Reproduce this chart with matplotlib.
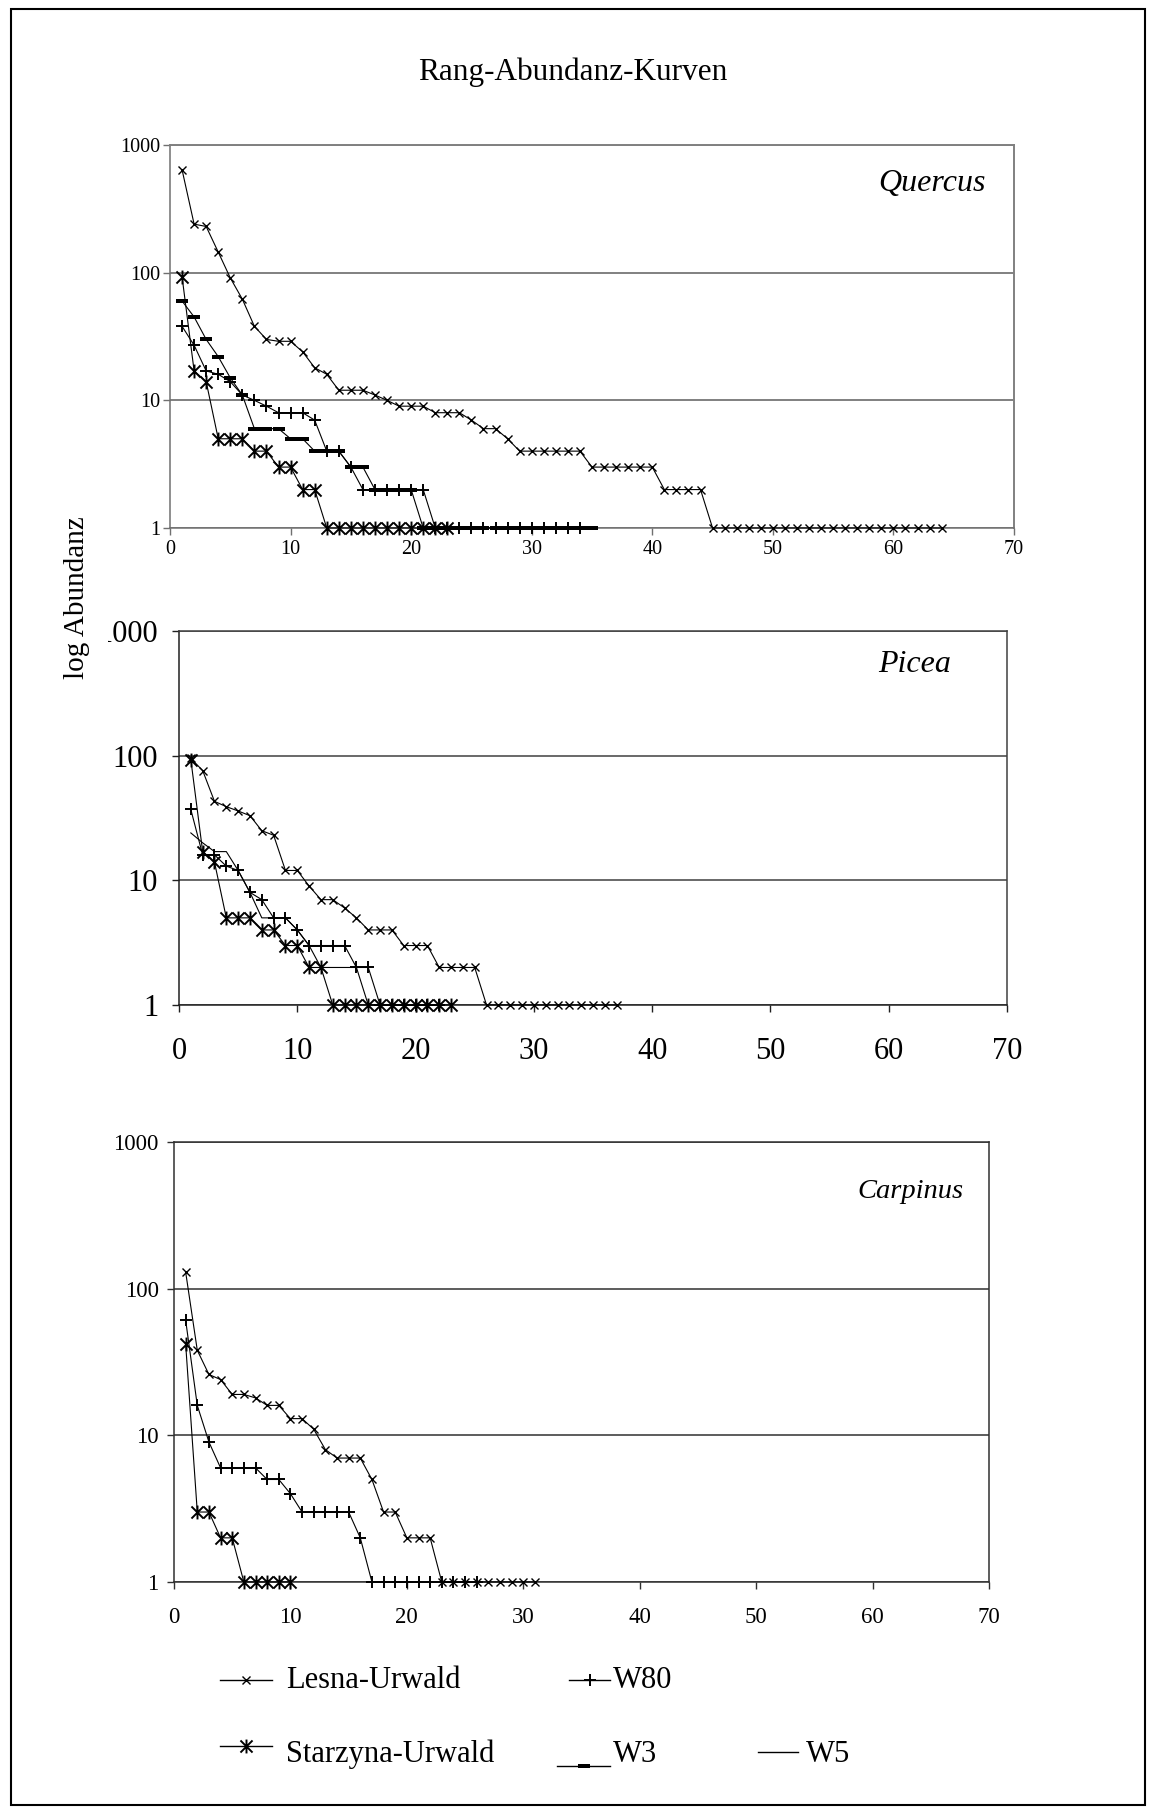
import matplotlib
matplotlib.use('Agg')
import matplotlib.pyplot as plt
from matplotlib.path import Path
import numpy as np

plt.rcParams['font.family'] = 'Liberation Serif'

# ranks run 1..n (log scale)
lesna_q = [640, 240, 230, 145, 91, 62, 38, 30, 29, 29, 24, 18, 16, 12, 12, 12, 11, 10,
           9, 9, 9, 8, 8, 8, 7, 6, 6, 5] + [4]*6 + [3]*6 + [2]*4 + [1]*20
starzyna_q = [93, 17, 14, 5, 5, 5, 4, 4, 3, 3, 2, 2] + [1]*11
w80_q = [38, 27, 17, 16, 14, 11, 10, 9, 8, 8, 8, 7, 4, 4, 3, 2, 2, 2, 2, 2, 2] + [1]*13
w3_q = [60, 45, 30, 22, 15, 11, 6, 6, 6, 5, 5, 4, 4, 4, 3, 3, 2, 2, 2, 2] + [1]*15

lesna_p = [95, 76, 43, 39, 36, 33, 25, 23, 12, 12, 9, 7, 7, 6, 5, 4, 4, 4, 3, 3, 3,
           2, 2, 2, 2] + [1]*12
starzyna_p = [93, 17, 14, 5, 5, 5, 4, 4, 3, 3, 2, 2] + [1]*11
w80_p = [37, 16, 16, 13, 12, 8, 7, 5, 5, 4, 3, 3, 3, 3, 2, 2] + [1]*6
w5_p = [24, 20, 17, 17, 12, 8, 5, 5, 5, 4, 3, 2, 2, 2, 2] + [1]*5

lesna_c = [130, 38, 26, 24, 19, 19, 18, 16, 16, 13, 13, 11, 8, 7, 7, 7, 5, 3, 3,
           2, 2, 2] + [1]*9
starzyna_c = [42, 3, 3, 2, 2] + [1]*5
w80_c = [61, 16, 9, 6, 6, 6, 6, 5, 5, 4, 3, 3, 3, 3, 3, 2] + [1]*10

series_names = ['Lesna-Urwald', 'Starzyna-Urwald', 'W80', 'W3', 'W5']
xticks = [0, 10, 20, 30, 40, 50, 60, 70]
yticks = [1, 10, 100, 1000]

star = Path([(-1, -1), (1, 1), (-1, 1), (1, -1), (0, -1.15), (0, 1.15)],
            [Path.MOVETO, Path.LINETO, Path.MOVETO, Path.LINETO, Path.MOVETO, Path.LINETO])
dash = Path([(-1, -0.32), (1, -0.32), (1, 0.32), (-1, 0.32), (-1, -0.32)],
            [Path.MOVETO, Path.LINETO, Path.LINETO, Path.LINETO, Path.CLOSEPOLY])

styles = {
    'Lesna-Urwald': dict(marker='x', ms=6, mew=1.0, mfc='none'),
    'Starzyna-Urwald': dict(marker=star, ms=10, mew=1.4, mfc='none'),
    'W80': dict(marker='+', ms=9, mew=1.4),
    'W3': dict(marker=dash, ms=8, mew=0, mfc='black'),
    'W5': dict(marker='None'),
}

W, H = 1157, 1814
fig = plt.figure(figsize=(W/100, H/100), dpi=100)


def box(l, t, r, b):
    return [l/W, 1 - b/H, (r - l)/W, (b - t)/H]


def panel(rect, data, name, name_xy, name_fs, fs, ypad, xpad, gcol, glw, lcol):
    ax = fig.add_axes(box(*rect))
    for lab, vals in data:
        x = np.arange(1, len(vals) + 1)
        ax.plot(x, vals, color='black', lw=0.8, mec='black', clip_on=False,
                zorder=3, **styles[lab])
    ax.set_yscale('log')
    ax.set_xlim(0, 70)
    ax.set_ylim(1, 1000)
    ax.set_xticks(xticks)
    ax.set_xticklabels([str(v) for v in xticks])
    ax.set_yticks(yticks)
    ax.set_yticklabels([str(v) for v in yticks])
    ax.minorticks_off()
    ax.yaxis.grid(True, color=gcol, lw=glw)
    ax.set_axisbelow(True)
    ax.tick_params(axis='both', direction='out', length=5, width=1, colors=lcol,
                   labelcolor='black', labelsize=fs)
    ax.tick_params(axis='y', pad=ypad)
    ax.tick_params(axis='x', pad=xpad)
    for s in ['top', 'right']:
        ax.spines[s].set_color(gcol)
        ax.spines[s].set_linewidth(glw)
    for s in ['left', 'bottom']:
        ax.spines[s].set_color(lcol)
        ax.spines[s].set_linewidth(1.1)
    ax.text(name_xy[0], name_xy[1], name, transform=fig.transFigure, ha='right',
            va='center', fontsize=name_fs, style='italic')
    return ax


panel((170, 145, 1014, 528),
      [('Lesna-Urwald', lesna_q), ('W80', w80_q), ('W3', w3_q), ('Starzyna-Urwald', starzyna_q)],
      'Quercus', (986/W, 1 - 183/H), 23, 14.5, 2, 4, '#808080', 1.4, '#707070')
panel((179, 631, 1007, 1005),
      [('Lesna-Urwald', lesna_p), ('W80', w80_p), ('W5', w5_p), ('Starzyna-Urwald', starzyna_p)],
      'Picea', (951/W, 1 - 665/H), 23, 22, 10, 18, '#404040', 1.1, '#202020')
panel((174, 1142, 989, 1582),
      [('Lesna-Urwald', lesna_c), ('W80', w80_c), ('Starzyna-Urwald', starzyna_c)],
      'Carpinus', (964/W, 1 - 1192/H), 20.5, 16.5, 6, 13, '#303030', 1.1, '#303030')

fig.text(573/W, 1 - 72/H, 'Rang-Abundanz-Kurven', ha='center', va='center', fontsize=22.5)
fig.text(77/W, 1 - 598/H, 'log Abundanz', ha='center', va='center', rotation=90,
         fontsize=21, zorder=10,
         bbox=dict(facecolor='white', edgecolor='none', boxstyle='square,pad=0.62'))

# frame and legend drawn in pixel coordinates on an overlay
ov = fig.add_axes([0, 0, 1, 1], zorder=-1)
ov.set_xlim(0, W)
ov.set_ylim(H, 0)
ov.axis('off')
ov.add_patch(plt.Rectangle((11, 9), 1134, 1796, fill=False, ec='black', lw=1.5))

leg = [
    ('Lesna-Urwald', 220, 272, 1680, 286, 1680),
    ('W80', 569, 610, 1680, 613, 1680),
    ('Starzyna-Urwald', 220, 272, 1746, 286, 1754),
    ('W3', 557, 610, 1766, 613, 1754),
    ('W5', 758, 798, 1752, 806, 1754),
]
for lab, x0, x1, yl, xt, yt in leg:
    ov.plot([x0, x1], [yl, yl], color='black', lw=1.0)
    st = dict(styles[lab])
    if st['marker'] != 'None':
        ov.plot([(x0 + x1)/2], [yl], ls='none', mec='black', color='black', **st)
    ov.text(xt, yt, lab, ha='left', va='center', fontsize=22)

fig.savefig('out.png', dpi=100)
